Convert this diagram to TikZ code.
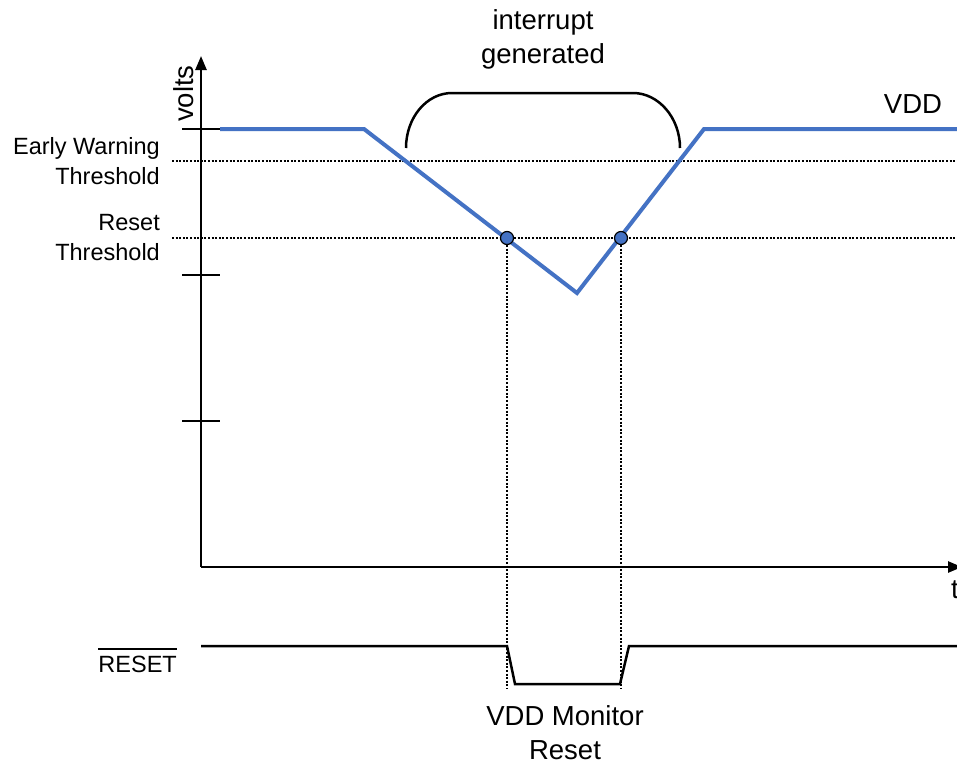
\documentclass[tikz,border=0pt]{standalone}
\usepackage{fontspec}
\setmainfont{Liberation Sans}
\usetikzlibrary{arrows.meta}
\definecolor{vddblue}{HTML}{4472C4}
\newcommand{\ovlabel}[1]{{\setbox0\hbox{#1}\rlap{\rule[\dimexpr\ht0+6pt\relax]{\wd0}{1.6pt}}\box0}}
\begin{document}
\begin{tikzpicture}[x=1pt,y=-1pt,
  axis/.style={line width=2.5pt,-{Triangle[length=14pt,width=11pt]}},
  tickline/.style={line width=2.5pt},
  thresh/.style={line width=2.5pt,dash pattern=on 2pt off 1.6pt},
  vdd/.style={line width=4pt,draw=vddblue,line join=miter},
  wave/.style={line width=2.5pt,line join=miter},
  lbl/.style={font=\fontsize{23.5}{30}\selectfont,inner sep=0pt},
  biglbl/.style={font=\fontsize{27.5}{34}\selectfont,inner sep=0pt},
  dot/.style={circle,fill=vddblue,draw=black,line width=1.2pt,minimum size=13pt,inner sep=0pt}]
\useasboundingbox (0,0) rectangle (957,763);
\fill[white] (0,0) rectangle (957,763);
% axes
\coordinate (O) at (201,567);
\coordinate (ytop) at (201,56);
\coordinate (xend) at (962,567);
\draw[axis] (O) -- (ytop);
\draw[axis] (O) -- (xend);
% ticks
\draw[tickline] (182,129) -- (220,129);
\draw[tickline] (182,275) -- (220,275);
\draw[tickline] (182,421) -- (220,421);
% thresholds
\draw[thresh] (172,161) -- (957,161);
\draw[thresh] (172,238) -- (957,238);
% VDD curve
\draw[vdd] (220,129) -- (364,129) -- (577,293) -- (704,129) -- (957,129);
% crossing dots
\node[dot] (d1) at (507,238) {};
\node[dot] (d2) at (621,238) {};
\coordinate (d1b) at (507,688);
\coordinate (d2b) at (621,688);
\draw[thresh] (d1.south) -- (d1b);
\draw[thresh] (d2.south) -- (d2b);
% RESET waveform
\draw[wave] (201,646) -- (507,646) -- (515,684) -- (620,684) -- (629,646) -- (957,646);
% bracket
\draw[line width=2.5pt] (406,148) .. controls (406,117.6) and (426.6,93) .. (452,93) -- (633,93)
  .. controls (658.4,93) and (680,117.6) .. (680,148);
% labels
\node[biglbl,align=center,anchor=base] (intr) at (543,63) {interrupt\\generated};
\node[biglbl,anchor=base] (vddl) at (913,113) {VDD};
\node[biglbl,rotate=90,anchor=base west] (volts) at (193,122) {volts};
\node[biglbl,anchor=base west] (tl) at (951,598) {t};
\node[lbl,align=right,anchor=base east] (ew) at (160,184.5) {Early Warning\\Threshold};
\node[lbl,align=right,anchor=base east] (rt) at (160,260.5) {Reset\\Threshold};
\node[lbl,anchor=base east] (rst) at (177,672) {\ovlabel{RESET}};
\node[biglbl,align=center,anchor=base] (mon) at (565,759) {VDD Monitor\\Reset};
\end{tikzpicture}
\end{document}
